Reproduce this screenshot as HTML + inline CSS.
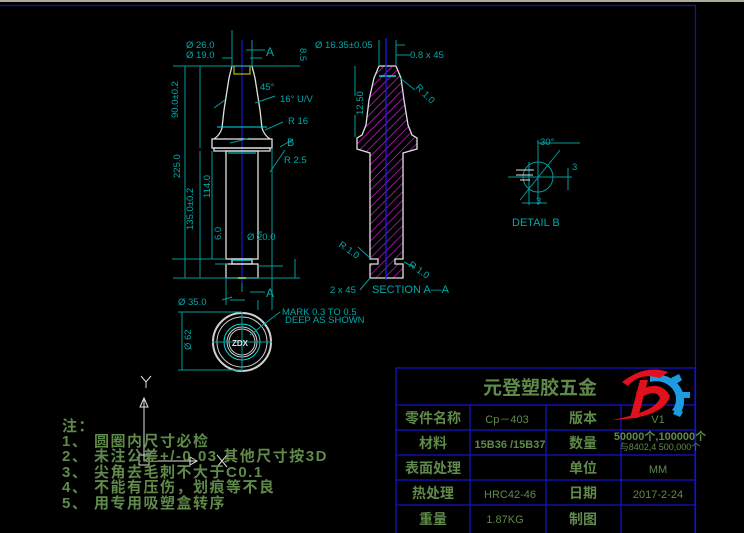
<!DOCTYPE html>
<html><head><meta charset="utf-8"><style>
html,body{margin:0;padding:0;background:#000;width:744px;height:533px;overflow:hidden}
svg{display:block}
.c{stroke:#009c9c;stroke-width:1;fill:none}
.w{stroke:#e0e0e0;stroke-width:1.3;fill:none}
.t{fill:#00a8a8;font-family:"Liberation Sans",sans-serif;font-size:9.5px}
.g{fill:#5f8a4a;font-family:"Liberation Sans","Noto Sans CJK SC",sans-serif;font-weight:bold}
</style></head><body>
<svg width="744" height="533" viewBox="0 0 744 533" xmlns="http://www.w3.org/2000/svg">
<defs>
<pattern id="h" width="6" height="6" patternUnits="userSpaceOnUse" patternTransform="rotate(45)">
<line x1="0" y1="0" x2="0" y2="6" stroke="#e020e0" stroke-width="1.3"/></pattern>
</defs>
<rect x="0" y="0" width="744" height="2" fill="#b0aa9c"/>
<path d="M0 5.5H695.5V533" stroke="#1010c8" stroke-width="1.2" fill="none"/>

<line x1="242" y1="40" x2="242" y2="292" stroke="#1a1aff"/>
<path class="w" d="M232 66H252 M232 66L229 78L224 110L222 128Q220 135 214 139 M252 66L255 78L260 110L262 128Q264 135 270 139"/>
<rect class="w" x="212" y="139" width="60" height="9"/>
<rect class="w" x="214" y="148" width="56" height="3"/>
<rect class="w" x="226" y="151" width="32" height="108"/>
<rect class="w" x="232" y="259" width="20" height="5"/>
<rect class="w" x="226" y="264" width="32" height="14"/>
<line x1="232" y1="260" x2="252" y2="260" stroke="#00e0e0" stroke-width="1.5"/>
<line x1="217" y1="127" x2="267" y2="127" stroke="#00e0e0"/>
<line x1="228" y1="153" x2="256" y2="153" stroke="#00e0e0"/>
<rect x="234" y="66" width="16" height="8" fill="none" stroke="#e0e000"/>
<line x1="238" y1="278" x2="246" y2="278" stroke="#e0e000" stroke-width="2"/>
<g class="c">
<path d="M173 66H300 M185 66V278 M173 278H300 M200 66V148 M200 151V278 M212 151V259 M172 259H226 M215 264H228 M232 66V30 M252 66V40 M222 58H232 M250 58H262 M246 50H265 M272 148V310 M226 278V305 M262 232H258 M283 266H258 M285 150L270 172 M265 130L283 122 M255 103L275 96 M225 100L214 108 M230 143L250 138 M280 147L292 140 M295 259V278 M242 292V283 M250 292H265 M245 300H230 M258 300V310 M232 297L222 300"/>
</g>
<g class="t">
<text x="186" y="48">Ø 26.0</text><text x="186" y="58">Ø 19.0</text>
<text x="266" y="56" font-size="12">A</text><text x="266" y="297" font-size="12">A</text>
<text x="284" y="163">R 2.5</text><text x="288" y="124">R 16</text><text x="280" y="102">16° U/V</text>
<text x="260" y="90">45°</text><text x="287" y="146" font-size="11">B</text>
<text x="247" y="240">Ø 20.0</text><text x="178" y="305">Ø 35.0</text>
<text transform="translate(178 118) rotate(-90)">90.0±0.2</text>
<text transform="translate(180 178) rotate(-90)">225.0</text>
<text transform="translate(193 230) rotate(-90)">135.0±0.2</text>
<text transform="translate(210 198) rotate(-90)">114.0</text>
<text transform="translate(221 240) rotate(-90)">6.0</text>
<text transform="translate(300 48) rotate(90)">8.5</text>
</g>

<path d="M379 66H396L401 78L404 100L408 125L412 135L417 138L417 149L403 153L403 259L395 259L395 264L403 264L403 278L370 278L370 264L378 264L378 259L370 259L370 153L357 149L357 138L362 135L366 125L369 100L374 78Z" fill="url(#h)" stroke="#e0e0e0" stroke-width="1.3"/>
<line x1="379" y1="76" x2="396" y2="76" stroke="#00e0e0" stroke-width="1.5"/>
<line x1="386" y1="38" x2="386" y2="280" stroke="#1a1aff" stroke-width="1.2"/>
<g class="c"><path d="M379 66V40 M396 66V40 M396 55H410 M396 45H405 M355 66V96 M355 115V137 M400 78L415 90 M370 258L358 247 M404 262L415 268 M370 278L360 290"/></g>
<g class="t">
<text x="315" y="48">Ø 16.35±0.05</text><text x="410" y="58">0.8 x 45</text>
<text transform="translate(415 88) rotate(45)">R 1.0</text>
<text transform="translate(363 115) rotate(-90)">12.50</text>
<text transform="translate(338 246) rotate(35)">R 1.0</text>
<text transform="translate(408 266) rotate(35)">R 1.0</text>
<text x="330" y="293">2 x 45</text><text x="372" y="293" font-size="11">SECTION A—A</text>
</g>

<g class="c"><circle cx="538" cy="177" r="15"/><path d="M508 177H572 M538 140V205 M529 162V205 M520 200L560 150 M538 143H580 M568 168V190 M522 203H547"/></g>
<path d="M516 170H534 M516 175H533 M520 180H530" stroke="#e0e0e0"/>
<g class="t"><text x="540" y="145">30°</text><text x="512" y="226" font-size="11">DETAIL B</text><text x="572" y="170">3</text><text x="536" y="204">3</text></g>

<g fill="none"><circle cx="242" cy="342" r="29" stroke="#d0d0d0" stroke-width="2"/><circle cx="242" cy="342" r="25" stroke="#d0d0d0"/>
<circle cx="242" cy="342" r="18" stroke="#00e0e0"/><circle cx="242" cy="342" r="15" stroke="#d0d0d0"/><circle cx="242" cy="342" r="13" stroke="#d0d0d0"/></g>
<g class="c"><path d="M212 342H272 M242 312V372 M178 312H242 M178 370H242 M182 312V370 M250 335L280 312"/></g>
<text x="232" y="346" fill="#e0e0e0" font-family="Liberation Sans" font-size="8" font-weight="bold">ZDX</text>
<g class="t"><text x="282" y="315">MARK 0.3 TO 0.5</text><text x="285" y="323">DEEP AS SHOWN</text>
<text transform="translate(191 350) rotate(-90)">Ø 62</text></g>

<g stroke="#e0e0e0" fill="none"><path d="M144 398V461H197 M140 407L144 398L148 407Z M190 457L197 461L190 465Z"/><rect x="139" y="455" width="10" height="10"/>
<path d="M141 376L146 382L151 376 M146 382V388 M217 455L227 467 M227 455L217 467"/></g>

<g class="g" font-size="15" letter-spacing="1.5">
<text x="62" y="431">注：</text>
<text x="62" y="446">1、 圆圈内尺寸必检</text>
<text x="62" y="461">2、 未注公差+/-0.03  其他尺寸按3D</text>
<text x="62" y="477">3、 尖角去毛刺不大于C0.1</text>
<text x="62" y="492">4、 不能有压伤，划痕等不良</text>
<text x="62" y="508">5、 用专用吸塑盒转序</text>
</g>

<g stroke="#1414d0" stroke-width="1.2" fill="none">
<rect x="396" y="368" width="299" height="170"/>
<path d="M396 405H695 M396 430H695 M396 455H695 M396 480H695 M396 505H695 M470 405V533 M546 405V533 M621 405V533"/>
</g>
<g class="g" font-size="14" text-anchor="middle">
<text x="540" y="394" font-size="19">元登塑胶五金</text>
<text x="433" y="423">零件名称</text><text x="433" y="448">材料</text><text x="433" y="473">表面处理</text><text x="433" y="498">热处理</text><text x="433" y="524">重量</text>
<text x="583" y="423">版本</text><text x="583" y="448">数量</text><text x="583" y="473">单位</text><text x="583" y="498">日期</text><text x="583" y="524">制图</text>
</g>
<g fill="#5f8a4a" font-family="Liberation Sans" font-size="11" text-anchor="middle">
<text x="507" y="423">Cp－403</text><text x="510" y="448" font-weight="bold">15B36 /15B37</text>
<text x="510" y="498">HRC42-46</text><text x="505" y="523">1.87KG</text>
<text x="658" y="423">V1</text><text x="658" y="473">MM</text><text x="658" y="498">2017-2-24</text>
<text x="660" y="440" font-weight="bold" font-family="Liberation Sans,Noto Sans CJK SC">50000个,100000个</text>
<text x="660" y="450" font-size="9">与8402,4 500,000个</text>
</g>
<g>
<path d="M650 375 A28 26 0 0 1 680 414 L672 410 A20 18 0 0 0 650 382Z" fill="#1e9be0"/>
<path d="M671 378l8 -4 3 6 -6 4Z M682 392l8 0 0 6 -8 0Z M676 408l7 4 -3 5 -7 -3Z" fill="#1e9be0"/>
<path d="M622 382 Q645 364 668 372 L660 378 Q640 372 628 386Z M640 380 L630 418 L638 418 L648 380Z" fill="#e0101c"/>
<path d="M636 392 Q660 378 670 396 Q664 418 612 420 Q655 412 660 398 Q656 388 640 398Z" fill="#e0101c"/>
</g>
</svg>
</body></html>
